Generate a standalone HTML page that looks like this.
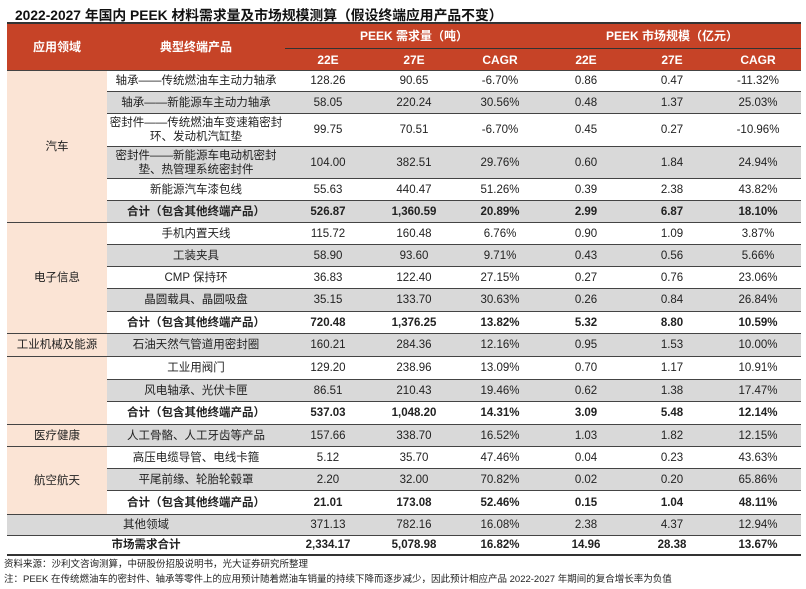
<!DOCTYPE html>
<html><head><meta charset="utf-8"><style>
body{margin:0;width:806px;height:589px;background:#fff;font-family:"Liberation Sans","Noto Sans CJK SC",sans-serif;overflow:hidden;position:relative}
#title{position:absolute;left:15px;top:4px;font-size:13.8px;font-weight:bold;color:#111;white-space:nowrap}
table{position:absolute;left:7px;top:22px;border-collapse:collapse;table-layout:fixed;width:794px;font-size:11.5px;color:#222}
td,th{text-align:center;padding:0;line-height:14px;overflow:hidden;white-space:nowrap}
th{background:#c64327;color:#fff;font-size:12px}
.hd1 th{height:24px}.hd2 th{height:21px;border-top:1.5px solid #333}
.cat{background:#fbe4d5;border-top:2px solid #333}
tr.r td{border-top:1.5px solid #444}
.g{background:#d9d9d9}
.b td{font-weight:bold}
.grp td{border-top:2px solid #333}
tr.last td{border-bottom:2px solid #333}
.note{position:absolute;left:4px;font-size:9.5px;color:#222;white-space:nowrap}
</style></head><body>
<div id="title">2022-2027 年国内 PEEK 材料需求量及市场规模测算（假设终端应用产品不变）</div>
<table>
<colgroup><col style="width:100px"><col style="width:178px"><col style="width:86px"><col style="width:86px"><col style="width:86px"><col style="width:86px"><col style="width:86px"><col style="width:86px"></colgroup>
<tr class="hd1"><th rowspan="2" style="border-top:2px solid #333">应用领域</th><th rowspan="2" style="border-top:2px solid #333">典型终端产品</th><th colspan="3" style="border-top:2px solid #333">PEEK 需求量（吨）</th><th colspan="3" style="border-top:2px solid #333">PEEK 市场规模（亿元）</th></tr>
<tr class="hd2"><th>22E</th><th>27E</th><th>CAGR</th><th>22E</th><th>27E</th><th>CAGR</th></tr>
<tr class="r grp" style="height:21px"><td class="cat" rowspan="6">汽车</td><td>轴承——传统燃油车主动力轴承</td><td>128.26</td><td>90.65</td><td>-6.70%</td><td>0.86</td><td>0.47</td><td>-11.32%</td></tr>
<tr class="r g" style="height:22px"><td>轴承——新能源车主动力轴承</td><td>58.05</td><td>220.24</td><td>30.56%</td><td>0.48</td><td>1.37</td><td>25.03%</td></tr>
<tr class="r" style="height:33px"><td>密封件——传统燃油车变速箱密封<br>环、发动机汽缸垫</td><td>99.75</td><td>70.51</td><td>-6.70%</td><td>0.45</td><td>0.27</td><td>-10.96%</td></tr>
<tr class="r g" style="height:32px"><td>密封件——新能源车电动机密封<br>垫、热管理系统密封件</td><td>104.00</td><td>382.51</td><td>29.76%</td><td>0.60</td><td>1.84</td><td>24.94%</td></tr>
<tr class="r" style="height:22px"><td>新能源汽车漆包线</td><td>55.63</td><td>440.47</td><td>51.26%</td><td>0.39</td><td>2.38</td><td>43.82%</td></tr>
<tr class="r g b" style="height:22px"><td>合计（包含其他终端产品）</td><td>526.87</td><td>1,360.59</td><td>20.89%</td><td>2.99</td><td>6.87</td><td>18.10%</td></tr>
<tr class="r grp" style="height:22px"><td class="cat" rowspan="5">电子信息</td><td>手机内置天线</td><td>115.72</td><td>160.48</td><td>6.76%</td><td>0.90</td><td>1.09</td><td>3.87%</td></tr>
<tr class="r g" style="height:22px"><td>工装夹具</td><td>58.90</td><td>93.60</td><td>9.71%</td><td>0.43</td><td>0.56</td><td>5.66%</td></tr>
<tr class="r" style="height:22px"><td>CMP 保持环</td><td>36.83</td><td>122.40</td><td>27.15%</td><td>0.27</td><td>0.76</td><td>23.06%</td></tr>
<tr class="r g" style="height:23px"><td>晶圆载具、晶圆吸盘</td><td>35.15</td><td>133.70</td><td>30.63%</td><td>0.26</td><td>0.84</td><td>26.84%</td></tr>
<tr class="r b" style="height:22px"><td>合计（包含其他终端产品）</td><td>720.48</td><td>1,376.25</td><td>13.82%</td><td>5.32</td><td>8.80</td><td>10.59%</td></tr>
<tr class="r g grp" style="height:23px"><td class="cat">工业机械及能源</td><td>石油天然气管道用密封圈</td><td>160.21</td><td>284.36</td><td>12.16%</td><td>0.95</td><td>1.53</td><td>10.00%</td></tr>
<tr class="r grp" style="height:23px"><td class="cat" rowspan="3"></td><td>工业用阀门</td><td>129.20</td><td>238.96</td><td>13.09%</td><td>0.70</td><td>1.17</td><td>10.91%</td></tr>
<tr class="r g" style="height:22px"><td>风电轴承、光伏卡匣</td><td>86.51</td><td>210.43</td><td>19.46%</td><td>0.62</td><td>1.38</td><td>17.47%</td></tr>
<tr class="r b" style="height:23px"><td>合计（包含其他终端产品）</td><td>537.03</td><td>1,048.20</td><td>14.31%</td><td>3.09</td><td>5.48</td><td>12.14%</td></tr>
<tr class="r g grp" style="height:22px"><td class="cat">医疗健康</td><td>人工骨骼、人工牙齿等产品</td><td>157.66</td><td>338.70</td><td>16.52%</td><td>1.03</td><td>1.82</td><td>12.15%</td></tr>
<tr class="r grp" style="height:22px"><td class="cat" rowspan="3">航空航天</td><td>高压电缆导管、电线卡箍</td><td>5.12</td><td>35.70</td><td>47.46%</td><td>0.04</td><td>0.23</td><td>43.63%</td></tr>
<tr class="r g" style="height:22px"><td>平尾前缘、轮胎轮毂罩</td><td>2.20</td><td>32.00</td><td>70.82%</td><td>0.02</td><td>0.20</td><td>65.86%</td></tr>
<tr class="r b" style="height:24px"><td>合计（包含其他终端产品）</td><td>21.01</td><td>173.08</td><td>52.46%</td><td>0.15</td><td>1.04</td><td>48.11%</td></tr>
<tr class="r g grp" style="height:21px"><td colspan="2">其他领域</td><td>371.13</td><td>782.16</td><td>16.08%</td><td>2.38</td><td>4.37</td><td>12.94%</td></tr>
<tr class="r b grp last" style="height:19px"><td colspan="2">市场需求合计</td><td>2,334.17</td><td>5,078.98</td><td>16.82%</td><td>14.96</td><td>28.38</td><td>13.67%</td></tr>
</table>
<div class="note" style="top:556px">资料来源：沙利文咨询测算，中研股份招股说明书，光大证券研究所整理</div>
<div class="note" style="top:571px">注：PEEK 在传统燃油车的密封件、轴承等零件上的应用预计随着燃油车销量的持续下降而逐步减少，因此预计相应产品 2022-2027 年期间的复合增长率为负值</div>
</body></html>
